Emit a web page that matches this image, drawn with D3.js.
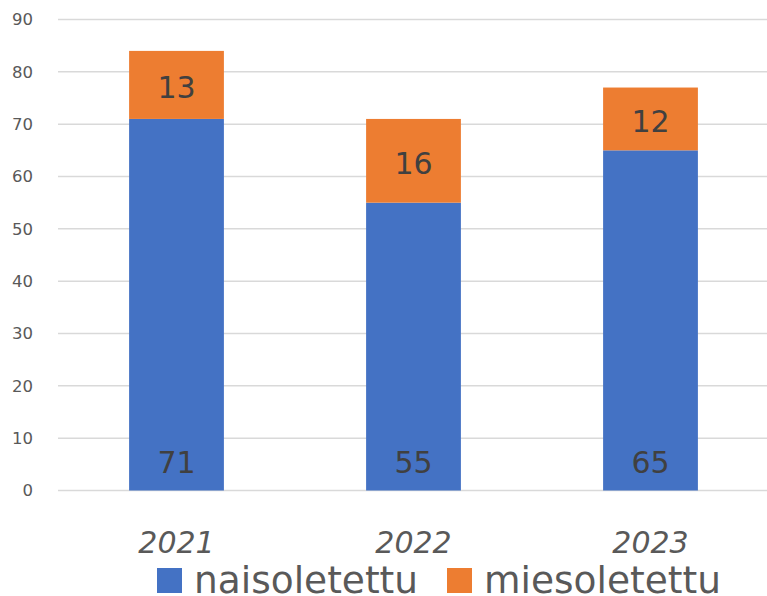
<!DOCTYPE html>
<meta charset="utf-8">
<html>
<head>
<style>
  body { margin: 0; background: #fff; }
  text { font-family: "DejaVu Sans", sans-serif; }
</style>
</head>
<body>
<div id="chart"></div>
<script src="https://d3js.org/d3.v7.min.js"></script>
<script>

  // Data
  var years = ["2021", "2022", "2023"];
  var naisoletettu = [71, 55, 65];
  var miesoletettu = [13, 16, 12];
  var seriesNames = ["naisoletettu", "miesoletettu"];
  var colors = ["#4472C4", "#ED7D31"];
  var yTicks = [0, 10, 20, 30, 40, 50, 60, 70, 80, 90];

  var W = 767, H = 596;
  var margin = {top: 19.5, right: 0, bottom: 105.5, left: 58};

  var svg = d3.select("#chart")
    .append("svg")
      .attr("width", W)
      .attr("height", H);

  var x = d3.scaleBand()
    .domain(years)
    .range([margin.left, margin.left + 237 * 3])
    .paddingInner(0.6)
    .paddingOuter(0.3);

  var y = d3.scaleLinear()
    .domain([0, 90])
    .range([H - margin.bottom, margin.top]);

  // Gridlines
  svg.append("g")
    .selectAll("line")
    .data(yTicks)
    .enter()
    .append("line")
      .attr("x1", margin.left)
      .attr("x2", W)
      .attr("y1", function(d) { return y(d); })
      .attr("y2", function(d) { return y(d); })
      .attr("stroke", "#D9D9D9")
      .attr("stroke-width", 1.5);

  // Y axis labels
  svg.append("g")
    .selectAll("text")
    .data(yTicks)
    .enter()
    .append("text")
      .attr("x", 33)
      .attr("y", function(d) { return y(d); })
      .attr("dy", "0.36em")
      .attr("text-anchor", "end")
      .attr("font-size", 16.5)
      .attr("fill", "#595959")
      .text(function(d) { return d; });

  // Stacked data
  var table = years.map(function(yr, i) {
    return {year: yr, naisoletettu: naisoletettu[i], miesoletettu: miesoletettu[i]};
  });
  var stacked = d3.stack().keys(seriesNames)(table);

  var layers = svg.append("g")
    .selectAll("g")
    .data(stacked)
    .enter()
    .append("g")
      .attr("fill", function(d, i) { return colors[i]; });

  layers.selectAll("rect")
    .data(function(d) { return d; })
    .enter()
    .append("rect")
      .attr("x", function(d) { return x(d.data.year); })
      .attr("width", x.bandwidth())
      .attr("y", function(d) { return y(d[1]); })
      .attr("height", function(d) { return y(d[0]) - y(d[1]); });

  // Labels: blue inside base, orange centered
  layers.each(function(s, si) {
    d3.select(this).selectAll("text")
      .data(s)
      .enter()
      .append("text")
        .attr("x", function(d) { return x(d.data.year) + x.bandwidth() / 2; })
        .attr("y", function(d) {
          return si === 0 ? y(d[0]) - 18 : (y(d[0]) + y(d[1])) / 2 + 2;
        })
        .attr("dy", si === 0 ? 0 : "0.36em")
        .attr("text-anchor", "middle")
        .attr("font-size", 30)
        .attr("fill", "#404040")
        .text(function(d) { return d[1] - d[0]; });
  });

  // X axis labels
  svg.append("g")
    .selectAll("text")
    .data(years)
    .enter()
    .append("text")
      .attr("x", function(d) { return x(d) + x.bandwidth() / 2; })
      .attr("y", 553)
      .attr("text-anchor", "middle")
      .attr("font-size", 30)
      .attr("font-style", "italic")
      .attr("fill", "#595959")
      .text(function(d) { return d; });

  // Legend
  var legend = svg.append("g");
  var lx = [157, 447];
  seriesNames.forEach(function(name, i) {
    legend.append("rect")
      .attr("x", lx[i])
      .attr("y", 568)
      .attr("width", 25)
      .attr("height", 25)
      .attr("fill", colors[i]);
    legend.append("text")
      .attr("x", lx[i] + 37)
      .attr("y", 593)
      .attr("font-size", 37.5)
      .attr("fill", "#595959")
      .text(name);
  });

</script>
</body>
</html>
